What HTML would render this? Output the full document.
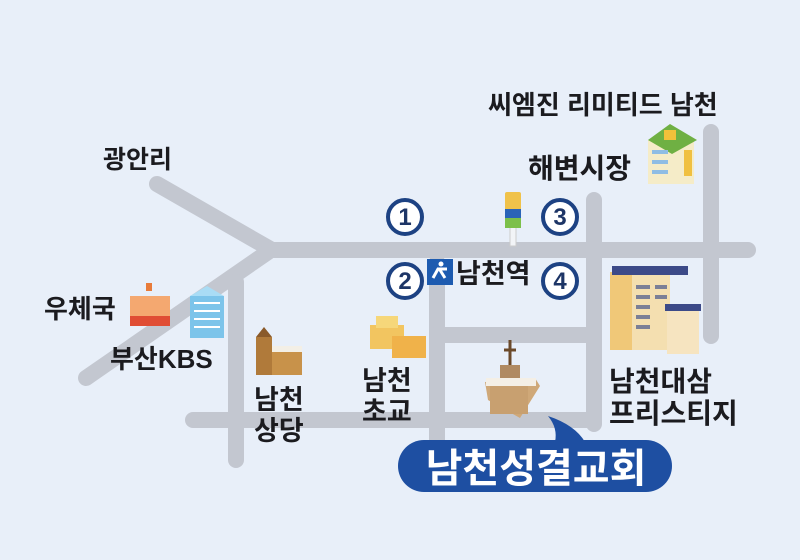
<!DOCTYPE html>
<html><head><meta charset="utf-8"><style>
html,body{margin:0;padding:0;background:#e8eff9;}
svg{display:block}
text{font-family:"Liberation Sans","Noto Sans CJK KR",sans-serif;font-weight:bold;}
</style></head><body>
<svg width="800" height="560" viewBox="0 0 800 560" xmlns="http://www.w3.org/2000/svg">
<rect width="800" height="560" fill="#e8eff9"/>
<g stroke="#c3c7d0" stroke-width="16" stroke-linecap="round" fill="none">
<line x1="157" y1="184" x2="272" y2="250"/>
<line x1="268" y1="252" x2="86" y2="378"/>
<line x1="272" y1="250" x2="748" y2="250"/>
<line x1="236" y1="282" x2="236" y2="460"/>
<line x1="193" y1="420" x2="594" y2="420"/>
<line x1="437" y1="262" x2="437" y2="470"/>
<line x1="437" y1="335" x2="594" y2="335"/>
<line x1="594" y1="200" x2="594" y2="424"/>
<line x1="711" y1="132" x2="711" y2="336"/>
</g>
<rect x="445" y="343" width="141" height="69" fill="#e8eff9"/>
<g fill="#fff" stroke="#1d4283" stroke-width="4">
<circle cx="405" cy="217" r="17"/><circle cx="560" cy="217" r="17"/>
<circle cx="405" cy="281" r="17"/><circle cx="560" cy="281" r="17"/>
</g>
<g fill="#1d3566" font-size="24" text-anchor="middle">
<text x="405" y="225">1</text><text x="560" y="225">3</text>
<text x="405" y="289">2</text><text x="560" y="289">4</text>
</g>
<rect x="427" y="259" width="26" height="26" fill="#1d5bb0"/>
<path d="M433 278 l5-9 h9 M440 270 l5 8" stroke="#fff" stroke-width="3" fill="none"/>
<circle cx="441" cy="264" r="2.5" fill="#fff"/>
<rect x="510" y="226" width="6" height="20" fill="#f2f4f7" stroke="#ccc"/>
<rect x="505" y="192" width="16" height="36" rx="2" fill="#f0c24a"/>
<rect x="505" y="209" width="16" height="9" fill="#2a64b8"/>
<rect x="505" y="218" width="16" height="10" fill="#7cc04a"/>
<g>
<rect x="130" y="296" width="40" height="30" fill="#f4a870"/><rect x="130" y="316" width="40" height="10" fill="#e04d34"/>
<rect x="146" y="283" width="6" height="8" fill="#e87b3a"/>
<rect x="190" y="296" width="34" height="42" fill="#7cc4ea"/><polygon points="190,296 207,286 224,296" fill="#a9dcf5"/>
<g fill="#fff"><rect x="194" y="302" width="26" height="2"/><rect x="194" y="310" width="26" height="2"/><rect x="194" y="318" width="26" height="2"/><rect x="194" y="326" width="26" height="2"/></g>
<rect x="256" y="337" width="16" height="38" fill="#b07a3a"/><polygon points="256,337 264,327 272,337" fill="#8a5a2a"/>
<rect x="272" y="350" width="30" height="25" fill="#c8924a"/><rect x="272" y="346" width="30" height="6" fill="#f3efe6"/>
<rect x="370" y="325" width="34" height="24" fill="#f2c560"/><rect x="392" y="336" width="34" height="22" fill="#f0b24a"/>
<rect x="376" y="316" width="22" height="12" fill="#f6d77a"/>
<line x1="510" y1="340" x2="510" y2="366" stroke="#6b4a2a" stroke-width="3"/><line x1="504" y1="350" x2="516" y2="350" stroke="#6b4a2a" stroke-width="3"/>
<rect x="500" y="365" width="20" height="14" fill="#b08a62"/>
<polygon points="485,382 535,378 540,386 520,418 488,400" fill="#cfa878"/>
<rect x="490" y="384" width="38" height="30" fill="#c8a070"/><rect x="486" y="378" width="50" height="8" fill="#f4efe6"/>
<rect x="610" y="272" width="60" height="78" fill="#f4dfb0"/><rect x="610" y="272" width="22" height="78" fill="#f0c878"/>
<rect x="612" y="266" width="76" height="9" fill="#3c4a88"/><rect x="667" y="308" width="32" height="46" fill="#f6e4c0"/><rect x="665" y="304" width="36" height="7" fill="#3c4a88"/>
<g fill="#7b7f96"><rect x="636" y="285" width="14" height="4"/><rect x="636" y="295" width="14" height="4"/><rect x="636" y="305" width="14" height="4"/><rect x="636" y="315" width="14" height="4"/><rect x="636" y="325" width="14" height="4"/><rect x="655" y="285" width="12" height="4"/><rect x="655" y="295" width="12" height="4"/></g>
<rect x="648" y="140" width="46" height="44" fill="#f5ecc8"/><polygon points="648,140 670,124 697,140 672,154" fill="#6fb043"/>
<rect x="664" y="130" width="12" height="10" fill="#f2c13a"/>
<g fill="#8fbde4"><rect x="652" y="150" width="16" height="4"/><rect x="652" y="160" width="16" height="4"/><rect x="652" y="170" width="16" height="4"/></g>
<rect x="684" y="150" width="8" height="26" fill="#f0c040"/>
</g>
<g fill="#1b1b1f">
<text x="103" y="168" font-size="25">광안리</text>
<text x="488" y="114" font-size="26">씨엠진 리미티드 남천</text>
<text x="528" y="178" font-size="28">해변시장</text>
<text x="456" y="283" font-size="27">남천역</text>
<text x="44" y="318" font-size="26">우체국</text>
<text x="110" y="368" font-size="26">부산KBS</text>
<text x="254" y="409" font-size="27">남천</text><text x="254" y="440" font-size="27">상당</text>
<text x="362" y="390" font-size="27">남천</text><text x="362" y="421" font-size="27">초교</text>
<text x="609" y="391" font-size="28">남천대삼</text><text x="609" y="423" font-size="28">프리스티지</text>
</g>
<path d="M424 440 H646 A26 26 0 0 1 646 492 H424 A26 26 0 0 1 424 440 Z" fill="#1e4fa2"/>
<path d="M548 416 Q575 425 585 442 L555 442 Q558 428 548 416 Z" fill="#1e4fa2"/>
<text x="536" y="482" fill="#fff" font-size="40" text-anchor="middle">남천성결교회</text>
</svg>
</body></html>
